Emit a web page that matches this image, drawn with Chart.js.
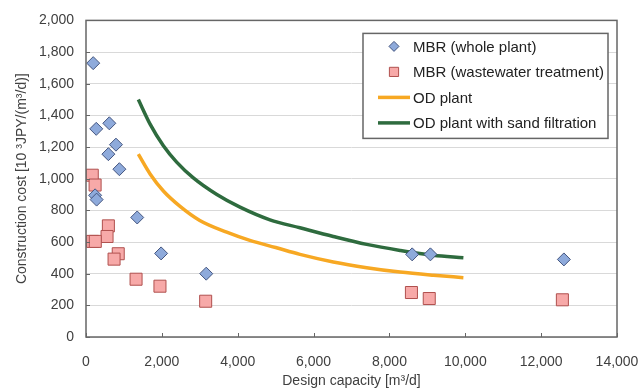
<!DOCTYPE html>
<html>
<head>
<meta charset="utf-8">
<script src="https://cdn.jsdelivr.net/npm/chart.js@4.4.1/dist/chart.umd.min.js"></script>
<style>
  html, body { margin: 0; padding: 0; background: #ffffff; }
  #wrap { width: 638px; height: 390px; }
</style>
</head>
<body>
<div id="wrap"><canvas id="myChart" width="638" height="390"></canvas></div>
<script>
// MBR (whole plant) - diamonds
var mbrWholeX = [190, 270, 615, 790, 590, 880, 240, 280, 1350, 1980, 3170, 8600, 9080, 12600];
var mbrWholeY = [1730, 1315, 1350, 1215, 1155, 1060, 895, 868, 755, 528, 400, 522, 522, 490];

// MBR (wastewater treatment) - squares
var mbrWasteX = [165, 240, 590, 555, 175, 245, 850, 740, 1320, 1950, 3155, 8580, 9050, 12560];
var mbrWasteY = [1022, 960, 702, 635, 604, 604, 526, 492, 365, 321, 226, 281, 243, 235];

// OD plant curve
var odX = [1380, 1690, 2040, 2480, 3000, 3710, 4320, 5000, 5640, 6520, 7400, 8280, 9160, 9950];
var odY = [1155, 1030, 922, 825, 736, 662, 610, 565, 522, 474, 438, 410, 390, 375];

// OD plant with sand filtration curve
var odSandX = [1380, 1690, 2040, 2390, 2830, 3450, 4060, 4850, 5640, 6520, 7400, 8280, 9160, 9950];
var odSandY = [1500, 1345, 1208, 1105, 1005, 900, 820, 740, 690, 635, 585, 547, 516, 501];

var seriesLabels = ["MBR (whole plant)", "MBR (wastewater treatment)", "OD plant", "OD plant with sand filtration"];

function toPoints(xs, ys) {
  var pts = [];
  for (var i = 0; i < xs.length; i++) {
    pts.push({ x: xs[i], y: ys[i] });
  }
  return pts;
}

var textColor = "#404040";
var tickFont = { family: "'Liberation Sans', Arial, sans-serif", size: 14 };

// frame + little inside ticks like the original
var framePlugin = {
  id: "frameTicks",
  afterDraw: function (chart) {
    var ctx = chart.ctx, a = chart.chartArea;
    var xs = chart.scales.x, ys = chart.scales.y;
    ctx.save();
    ctx.strokeStyle = "#666666";
    ctx.lineWidth = 1.5;
    ctx.strokeRect(a.left, a.top, a.right - a.left, a.bottom - a.top);
    ctx.lineWidth = 1;
    ctx.beginPath();
    xs.ticks.forEach(function (t) {
      var px = Math.round(xs.getPixelForValue(t.value)) + 0.5;
      ctx.moveTo(px, a.bottom);
      ctx.lineTo(px, a.bottom - 4);
    });
    ys.ticks.forEach(function (t) {
      var py = Math.round(ys.getPixelForValue(t.value)) + 0.5;
      ctx.moveTo(a.left, py);
      ctx.lineTo(a.left + 4, py);
    });
    ctx.stroke();
    ctx.restore();
  }
};

// boxed legend inside the plot (top right)
var legendPlugin = {
  id: "boxLegend",
  afterDraw: function (chart) {
    var ctx = chart.ctx, a = chart.chartArea;
    var left = a.right - 254, top = a.top + 13, w = 245, h = 105;
    ctx.save();
    ctx.fillStyle = "#ffffff";
    ctx.fillRect(left, top, w, h);
    ctx.strokeStyle = "#666666";
    ctx.lineWidth = 1.5;
    ctx.strokeRect(left, top, w, h);
    ctx.font = "15px 'Liberation Sans', Arial, sans-serif";
    ctx.textBaseline = "middle";
    ctx.textAlign = "left";
    chart.data.datasets.forEach(function (ds, i) {
      var cy = top + 13 + i * 25.5;
      if (ds.showLine) {
        ctx.strokeStyle = ds.borderColor;
        ctx.lineWidth = ds.borderWidth;
        ctx.beginPath();
        ctx.moveTo(left + 15, cy);
        ctx.lineTo(left + 47, cy);
        ctx.stroke();
      } else {
        ctx.fillStyle = ds.backgroundColor;
        ctx.strokeStyle = ds.borderColor;
        ctx.lineWidth = 1;
        Chart.helpers.drawPoint(ctx, {
          pointStyle: ds.pointStyle,
          radius: ds.pointStyle === "rect" ? 6.5 : 5,
          rotation: 0,
          borderWidth: 1
        }, left + 31, cy);
      }
      ctx.fillStyle = "#222222";
      ctx.fillText(ds.label, left + 50, cy + 1);
    });
    ctx.restore();
  }
};

var ctx = document.getElementById("myChart");
var myChart = new Chart(ctx, {
  type: "scatter",
  data: {
    datasets: [{
      label: seriesLabels[0],
      data: toPoints(mbrWholeX, mbrWholeY),
      pointStyle: "rectRot",
      pointRadius: 6.5,
      backgroundColor: "#8eaadb",
      borderColor: "#44557f",
      borderWidth: 1,
      showLine: false
    }, {
      label: seriesLabels[1],
      data: toPoints(mbrWasteX, mbrWasteY),
      pointStyle: "rect",
      pointRadius: 8.5,
      backgroundColor: "#f7a9a8",
      borderColor: "#b0504e",
      borderWidth: 1,
      showLine: false
    }, {
      label: seriesLabels[2],
      data: toPoints(odX, odY),
      showLine: true,
      borderColor: "#f7a823",
      borderWidth: 3.5,
      pointRadius: 0,
      cubicInterpolationMode: "monotone",
      fill: false
    }, {
      label: seriesLabels[3],
      data: toPoints(odSandX, odSandY),
      showLine: true,
      borderColor: "#2e6b3e",
      borderWidth: 3.5,
      pointRadius: 0,
      cubicInterpolationMode: "monotone",
      fill: false
    }]
  },
  options: {
    responsive: false,
    animation: false,
    devicePixelRatio: 1,
    layout: { padding: { top: 19, right: 0, left: 0, bottom: 0 } },
    plugins: {
      legend: { display: false },
      tooltip: { enabled: false }
    },
    scales: {
      x: {
        type: "linear",
        min: 0,
        max: 14000,
        ticks: {
          stepSize: 2000,
          padding: 17,
          color: textColor,
          font: tickFont,
          maxRotation: 0,
          callback: function (v) { return v.toLocaleString("en-US"); }
        },
        grid: { display: false, drawTicks: false },
        border: { display: false },
        title: {
          display: true,
          text: "Design capacity [m³/d]",
          color: textColor,
          font: tickFont,
          padding: { top: 0, bottom: 0 }
        },
        afterFit: function (s) {
          s.height = 53;
          s.paddingLeft = 0;
          s.paddingRight = 21;
        }
      },
      y: {
        min: 0,
        max: 2000,
        ticks: {
          stepSize: 200,
          padding: 12,
          color: textColor,
          font: tickFont,
          callback: function (v) { return v.toLocaleString("en-US"); }
        },
        grid: { color: "#d9d9d9", lineWidth: 1, drawTicks: false },
        border: { display: false },
        title: {
          display: true,
          text: "Construction cost [10 ³JPY/(m³/d)]",
          color: textColor,
          font: tickFont,
          padding: { top: 14, bottom: 0 }
        },
        afterFit: function (s) { s.width = 86; }
      }
    }
  },
  plugins: [framePlugin, legendPlugin]
});
</script>
</body>
</html>
